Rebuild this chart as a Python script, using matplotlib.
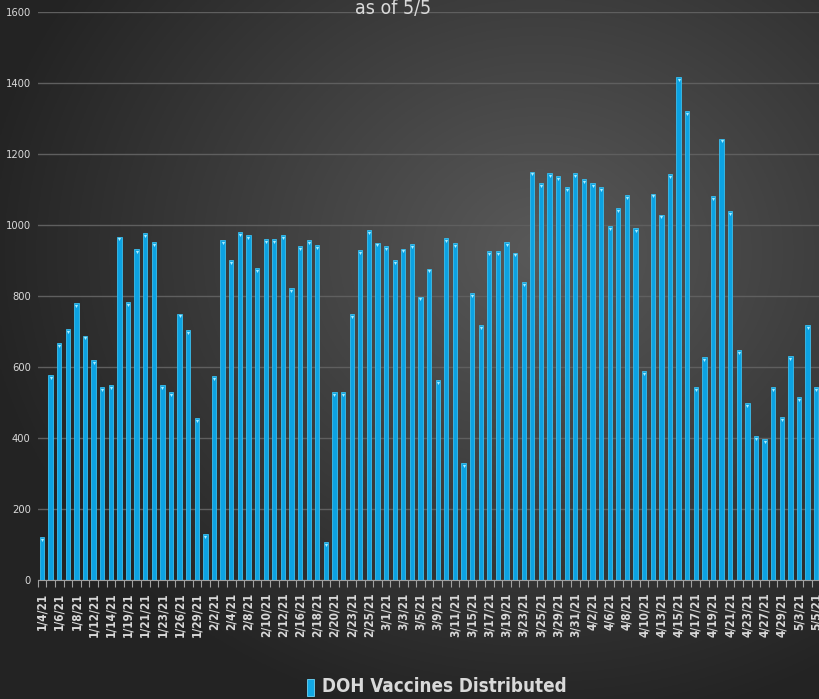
import numpy as np
import matplotlib
matplotlib.use("Agg")
import matplotlib.pyplot as plt
from matplotlib.patches import Rectangle

# dates of distribution (every other one is labelled on the axis)
dates = ["1/4/21", "1/5/21", "1/6/21", "1/7/21", "1/8/21", "1/11/21", "1/12/21", "1/13/21",
         "1/14/21", "1/15/21", "1/19/21", "1/20/21", "1/21/21", "1/22/21", "1/23/21", "1/25/21",
         "1/26/21", "1/27/21", "1/29/21", "2/1/21", "2/2/21", "2/3/21", "2/4/21", "2/5/21",
         "2/8/21", "2/9/21", "2/10/21", "2/11/21", "2/12/21", "2/15/21", "2/16/21", "2/17/21",
         "2/18/21", "2/19/21", "2/20/21", "2/22/21", "2/23/21", "2/24/21", "2/25/21", "2/26/21",
         "3/1/21", "3/2/21", "3/3/21", "3/4/21", "3/5/21", "3/8/21", "3/9/21", "3/10/21",
         "3/11/21", "3/12/21", "3/15/21", "3/16/21", "3/17/21", "3/18/21", "3/19/21", "3/22/21",
         "3/23/21", "3/24/21", "3/25/21", "3/26/21", "3/29/21", "3/30/21", "3/31/21", "4/1/21",
         "4/2/21", "4/5/21", "4/6/21", "4/7/21", "4/8/21", "4/9/21", "4/10/21", "4/12/21",
         "4/13/21", "4/14/21", "4/15/21", "4/16/21", "4/17/21", "4/18/21", "4/19/21", "4/20/21",
         "4/21/21", "4/22/21", "4/23/21", "4/26/21", "4/27/21", "4/28/21", "4/29/21", "4/30/21",
         "5/3/21", "5/4/21", "5/5/21"]

vaccines = [120, 578, 668, 707, 779, 688, 618, 544, 548, 967,
            782, 931, 977, 951, 548, 530, 750, 703, 457, 129,
            573, 958, 900, 980, 970, 879, 961, 961, 970, 821,
            941, 958, 943, 106, 528, 528, 749, 929, 986, 950,
            941, 901, 933, 946, 798, 877, 562, 963, 948, 329,
            807, 718, 926, 926, 952, 922, 838, 1150, 1118, 1146,
            1138, 1106, 1146, 1129, 1118, 1106, 996, 1046, 1083, 991,
            589, 1088, 1029, 1144, 1416, 1320, 544, 628, 1082, 1243,
            1039, 647, 497, 405, 396, 542, 458, 630, 514, 717, 542]

yticks = [0, 200, 400, 600, 800, 1000, 1200, 1400, 1600]

fam = ["DejaVu Sans"]
txt_col = "#d9d9d9"

fig = plt.figure(figsize=(8.19, 6.99), dpi=100)

# radial grey background
bg = fig.add_axes([0, 0, 1, 1])
gx, gy = np.meshgrid(np.linspace(0, 1, 400), np.linspace(0, 1, 400))
r = np.sqrt(((gx - 0.66) / 0.75) ** 2 + ((gy - 0.64) / 0.75) ** 2)
shade = np.clip(0.35 - 0.23 * r, 0.14, 0.35)
bg.imshow(np.dstack([shade] * 3), extent=[0, 1, 0, 1], origin="lower", aspect="auto")
bg.axis("off")

ax = fig.add_axes([37.7 / 819, 119 / 699, (820.5 - 37.7) / 819, (580 - 11.7) / 699])
ax.patch.set_alpha(0)
x = np.arange(len(vaccines))
ax.bar(x, vaccines, width=0.5, color="#0ca2e2", edgecolor="#3cbfee", linewidth=0.6, zorder=3)
ax.scatter(x, vaccines - np.full(len(x), 8), marker="v", s=5, color="#a8ecff", zorder=4, linewidths=0)

ax.set_xlim(-0.5, len(vaccines) - 0.5)
ax.set_ylim(0, 1600)
ax.set_yticks(yticks)
ax.set_yticklabels([str(v) for v in yticks], family=fam, stretch="condensed",
                   fontsize=8, color=txt_col)
ax.yaxis.grid(True, color="#5f5f5f", linewidth=1.0, zorder=0)
ax.tick_params(axis="y", length=0, pad=5)

ax.set_xticks(x[::2])
ax.set_xticklabels(dates[::2], rotation=90, family=fam, stretch="condensed", fontsize=8.5,
                   fontweight="bold", color=txt_col)
ax.set_xticks(np.arange(-0.5, len(vaccines), 1), minor=True)
ax.tick_params(axis="x", which="major", length=0, pad=9)
ax.tick_params(axis="x", which="minor", length=5, color="#a0a0a0", width=0.8)
for s in ["top", "right", "left"]:
    ax.spines[s].set_visible(False)
ax.spines["bottom"].set_color("#a0a0a0")
ax.set_axisbelow(True)

fig.text(393 / 819, 1 - 9 / 699, "as of 5/5", ha="center", va="center",
         family=fam, stretch="condensed", fontsize=14, color=txt_col)

# legend
fig.patches.append(Rectangle((307 / 819, 3 / 699), 7 / 819, 17 / 699,
                             transform=fig.transFigure, facecolor="#13a8e4",
                             edgecolor="#6fd6f7", linewidth=0.6))
fig.text(322 / 819, 12 / 699, "DOH Vaccines Distributed", ha="left", va="center",
         family=fam, stretch="condensed", fontsize=13.5, fontweight="bold", color=txt_col)

fig.savefig("out.png", dpi=100)
